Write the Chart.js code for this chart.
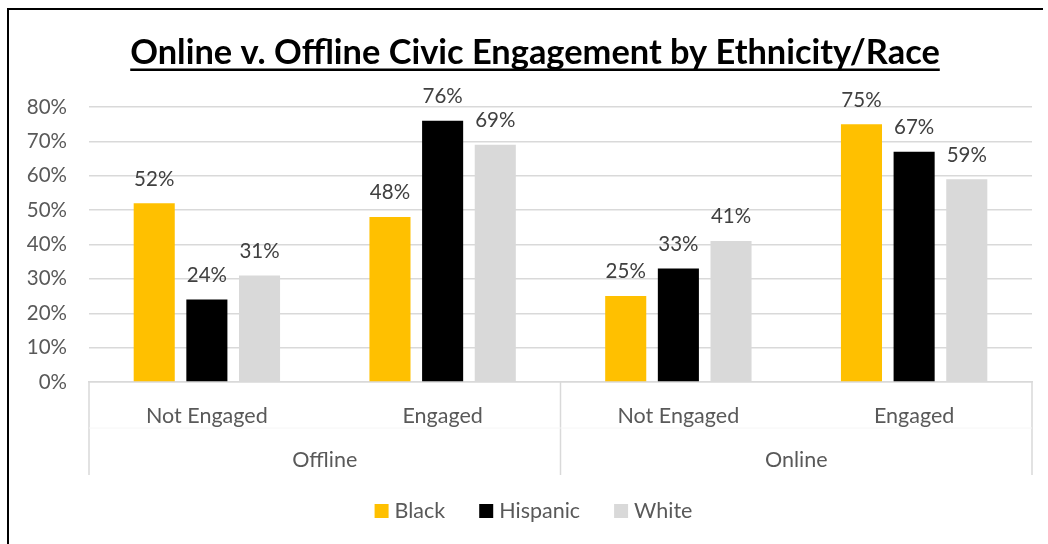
<!DOCTYPE html>
<html>
<head>
<meta charset="utf-8">
<script src="https://cdn.jsdelivr.net/npm/chart.js@4"></script>
<style>
  html, body { margin: 0; padding: 0; background: #fff; }
  #wrap { width: 1048px; height: 544px; position: relative; }
</style>
</head>
<body>
<div id="wrap"><canvas id="grafico"></canvas></div>
<script>
// ---- datos ----
const titulo = "Online v. Offline Civic Engagement by Ethnicity/Race";
const categorias = ["Not Engaged", "Engaged", "Not Engaged", "Engaged"];
const grupos = ["Offline", "Online"];
const series = ["Black", "Hispanic", "White"];
const valoresBlack = [52, 48, 25, 75];
const valoresHispanic = [24, 76, 33, 67];
const valoresWhite = [31, 69, 41, 59];
const colores = ["#FFC000", "#000000", "#D9D9D9"];
const ejeMax = 80;
const ejePaso = 10;

const FUENTE = "Lato, 'Open Sans', sans-serif";
const GRIS_TEXTO = "#595959";
const GRIS_LINEA = "#D9D9D9";

// ---- decoraciones: marco, titulo, etiquetas, grupos, leyenda ----
const decoraciones = {
    id: "decoraciones",
    afterDraw(chart) {
        const ctx = chart.ctx;
        const area = chart.chartArea;
        const x = chart.scales.x;
        ctx.save();

        // marco
        ctx.strokeStyle = "#000";
        ctx.lineWidth = 2;
        ctx.beginPath();
        ctx.moveTo(8, 544);
        ctx.lineTo(8, 9);
        ctx.lineTo(1043, 9);
        ctx.stroke();

        // titulo subrayado
        ctx.font = `bold 100px ${FUENTE}`;
        const escala = 810 / ctx.measureText(titulo).width;
        const tam = Math.round(100 * escala * 10) / 10;
        ctx.font = `bold ${tam}px ${FUENTE}`;
        const anchoT = ctx.measureText(titulo).width;
        const cx = 535;
        ctx.fillStyle = "#000";
        ctx.textAlign = "center";
        ctx.textBaseline = "alphabetic";
        ctx.fillText(titulo, cx, 64);
        ctx.fillRect(cx - anchoT / 2, 68.5, anchoT, 2.5);

        // etiquetas de valor
        ctx.font = `20.5px ${FUENTE}`;
        ctx.fillStyle = "#404040";
        ctx.textBaseline = "bottom";
        chart.data.datasets.forEach((ds, i) => {
            chart.getDatasetMeta(i).data.forEach((bar, j) => {
                ctx.fillText(ds.data[j] + "%", bar.x, bar.y - 14);
            });
        });

        // divisiones del eje de categorias
        const medio = (x.getPixelForValue(1) + x.getPixelForValue(2)) / 2;
        ctx.strokeStyle = GRIS_LINEA;
        ctx.lineWidth = 1.5;
        [area.left, medio, area.right].forEach(px => {
            ctx.beginPath();
            ctx.moveTo(px, area.bottom);
            ctx.lineTo(px, 475);
            ctx.stroke();
        });
        ctx.strokeStyle = "#F6F6F6";
        ctx.lineWidth = 1;
        ctx.beginPath();
        ctx.moveTo(area.left, 428);
        ctx.lineTo(area.right, 428);
        ctx.stroke();

        // etiquetas de grupo
        ctx.font = `21.5px ${FUENTE}`;
        ctx.fillStyle = GRIS_TEXTO;
        ctx.textBaseline = "middle";
        ctx.fillText(grupos[0], (area.left + medio) / 2, 460);
        ctx.fillText(grupos[1], (medio + area.right) / 2, 460);

        // leyenda
        const caja = 14, hueco = 6, sep = 34;
        const items = chart.data.datasets.map(ds => ({
            texto: ds.label, color: ds.backgroundColor, ancho: caja + hueco + ctx.measureText(ds.label).width
        }));
        const total = items.reduce((a, it) => a + it.ancho, 0) + sep * (items.length - 1);
        let lx = 533.5 - total / 2;
        const ly = 511;
        ctx.textAlign = "left";
        items.forEach(it => {
            ctx.fillStyle = it.color;
            ctx.fillRect(lx, ly - caja / 2, caja, caja);
            ctx.fillStyle = GRIS_TEXTO;
            ctx.fillText(it.texto, lx + caja + hueco, ly);
            lx += it.ancho + sep;
        });

        ctx.restore();
    }
};

const datos = [valoresBlack, valoresHispanic, valoresWhite];

new Chart(document.getElementById("grafico"), {
    type: "bar",
    data: {
        labels: categorias,
        datasets: series.map((nombre, i) => ({
            label: nombre,
            data: datos[i],
            backgroundColor: colores[i],
            categoryPercentage: 0.67,
            barPercentage: 0.78
        }))
    },
    options: {
        responsive: true,
        maintainAspectRatio: false,
        animation: false,
        layout: { padding: { top: 107, left: 0, right: 16, bottom: 0 } },
        plugins: {
            legend: { display: false },
            title: { display: false },
            tooltip: { enabled: false }
        },
        scales: {
            x: {
                grid: { display: false },
                border: { color: GRIS_LINEA, width: 1.5 },
                ticks: { color: GRIS_TEXTO, font: { family: FUENTE, size: 21.5 }, padding: 13, maxRotation: 0 },
                afterFit: s => { s.height = 544 - 382; }
            },
            y: {
                min: 0,
                max: ejeMax,
                grid: { color: GRIS_LINEA, lineWidth: 1.5, drawTicks: false },
                border: { display: false },
                ticks: {
                    stepSize: ejePaso,
                    color: GRIS_TEXTO,
                    font: { family: FUENTE, size: 20.5 },
                    padding: 22,
                    callback: v => v + "%"
                },
                afterFit: s => { s.width = 89; }
            }
        }
    },
    plugins: [decoraciones]
});
</script>
</body>
</html>
